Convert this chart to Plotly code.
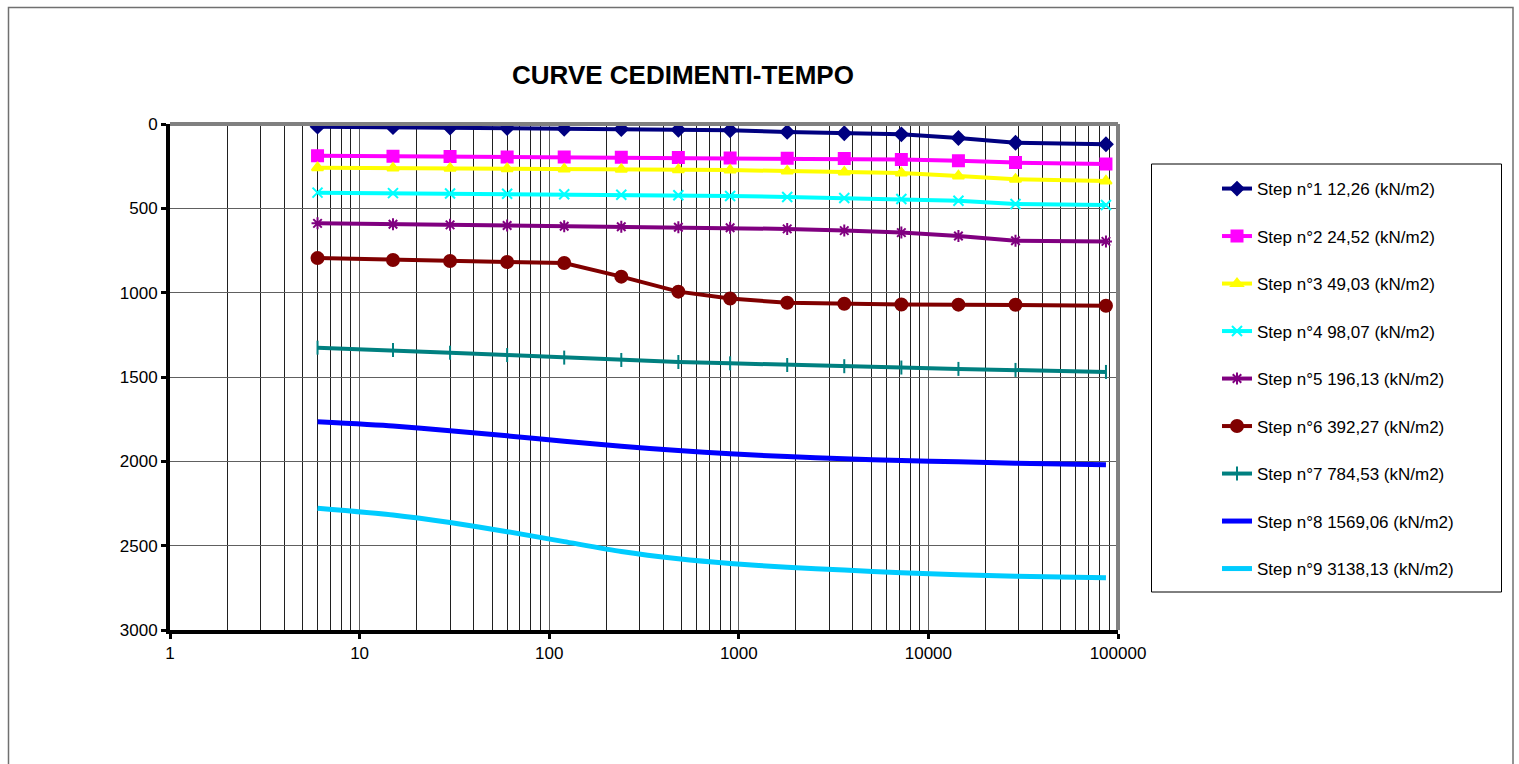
import plotly.graph_objects as go

# Elapsed time of each reading (s)
time_s = [6, 15, 30, 60, 120, 240, 480, 900, 1800, 3600, 7200, 14400, 28800, 86400]

# Settlement readings per load step
step1 = [16, 19, 21, 24, 28, 30, 34, 37, 47, 55, 61, 83, 111, 120]
step2 = [188, 191, 193, 195, 196, 197, 199, 201, 203, 205, 211, 218, 229, 237]
step3 = [259, 261, 263, 265, 267, 269, 271, 273, 279, 285, 290, 308, 328, 338]
step4 = [407, 410, 412, 414, 416, 419, 422, 427, 433, 439, 445, 455, 474, 480]
step5 = [589, 594, 598, 602, 606, 609, 612, 615, 622, 632, 644, 664, 692, 696]
step6 = [795, 806, 812, 818, 824, 905, 994, 1035, 1060, 1066, 1070, 1071, 1072, 1078]
step7 = [1326, 1340, 1356, 1370, 1385, 1399, 1411, 1419, 1429, 1436, 1444, 1452, 1458, 1470]
step8 = [1765, 1790, 1818, 1849, 1881, 1910, 1936, 1955, 1972, 1985, 1995, 2003, 2011, 2020]
step9 = [2278, 2318, 2363, 2417, 2476, 2535, 2578, 2606, 2628, 2645, 2660, 2672, 2681, 2690]

step_names = [
    "Step n°1 12,26 (kN/m2)",
    "Step n°2 24,52 (kN/m2)",
    "Step n°3 49,03 (kN/m2)",
    "Step n°4 98,07 (kN/m2)",
    "Step n°5 196,13 (kN/m2)",
    "Step n°6 392,27 (kN/m2)",
    "Step n°7 784,53 (kN/m2)",
    "Step n°8 1569,06 (kN/m2)",
    "Step n°9 3138,13 (kN/m2)",
]

x_tick_vals = [1, 10, 100, 1000, 10000, 100000]
x_tick_text = ["1", "10", "100", "1000", "10000", "100000"]
y_tick_vals = [0, 500, 1000, 1500, 2000, 2500, 3000]

series = [step1, step2, step3, step4, step5, step6, step7, step8, step9]
colors = ["#000080", "#FF00FF", "#FFFF00", "#00FFFF", "#800080",
          "#800000", "#008080", "#0000FF", "#00CCFF"]
symbols = ["diamond", "square", "triangle-up", "x-thin", "asterisk",
           "circle", "line-ns", None, None]
sizes = [10, 11, 10, 10, 10, 12, 10, 0, 0]

FONT = "Arial, Liberation Sans, sans-serif"

fig = go.Figure()
for i, (vals, name, col, sym, sz) in enumerate(zip(series, step_names, colors, symbols, sizes)):
    if sym is None:
        fig.add_trace(go.Scatter(
            x=time_s, y=vals, name=name, mode="lines",
            line=dict(color=col, width=5, shape="spline", smoothing=0.6),
            legendgroup=f"g{i}",
        ))
    else:
        fig.add_trace(go.Scatter(
            x=time_s, y=vals, name=name, mode="lines+markers",
            line=dict(color=col, width=4),
            marker=dict(symbol=sym, size=sz, color=col,
                        line=dict(color=col, width=2)),
            legendgroup=f"g{i}",
        ))

major_grid = "#606060"
minor_grid = "#202020"
minor_vals = [m * 10 ** d for d in range(5) for m in range(2, 10)]

fig.update_xaxes(
    type="log", range=[0, 5],
    tickvals=x_tick_vals, ticktext=x_tick_text,
    showgrid=True, gridcolor=major_grid, gridwidth=1,
    minor=dict(tickvals=minor_vals, showgrid=True, gridcolor=minor_grid, gridwidth=1, ticks=""),
    showline=True, linecolor="black", linewidth=4,
    ticks="outside", ticklen=5, tickwidth=3, tickcolor="black",
    tickfont=dict(family=FONT, size=17, color="black"),
    zeroline=False,
)
fig.update_yaxes(
    range=[3000, 0], tickvals=y_tick_vals,
    showgrid=True, gridcolor=major_grid, gridwidth=1,
    showline=True, linecolor="black", linewidth=4,
    ticks="outside", ticklen=5, tickwidth=3, tickcolor="black",
    tickfont=dict(family=FONT, size=17, color="black"),
    zeroline=False,
)

# plot area: x 170..1118, y 124..630 in a 1519x764 page
L, R, T, B = 170, 1118, 124, 630
W, H = 1519, 764
pw, ph = R - L, B - T

def px_x(px):
    return (px - L) / pw

def px_y(py):
    return (B - py) / ph

shapes = [
    # top and right plot border
    dict(type="line", xref="paper", yref="paper", x0=0, x1=1, y0=1, y1=1,
         line=dict(color="#808080", width=4), layer="above"),
    dict(type="line", xref="paper", yref="paper", x0=1, x1=1, y0=0, y1=1,
         line=dict(color="#808080", width=4), layer="above"),
    # outer chart frame
    dict(type="rect", xref="paper", yref="paper",
         x0=px_x(8.5), x1=px_x(1513), y0=px_y(7.5), y1=px_y(800),
         line=dict(color="#707070", width=1.5), fillcolor="rgba(0,0,0,0)"),
    # legend frame
    dict(type="rect", xref="paper", yref="paper",
         x0=px_x(1151.5), x1=px_x(1501.5), y0=px_y(164), y1=px_y(592),
         line=dict(color="black", width=1), fillcolor="rgba(0,0,0,0)"),
]

fig.update_layout(
    width=W, height=H,
    margin=dict(l=L, r=W - R, t=T, b=H - B),
    paper_bgcolor="white", plot_bgcolor="white",
    title=dict(text="<b>CURVE CEDIMENTI-TEMPO</b>",
               x=683 / W, xanchor="center", xref="container",
               y=1 - 75 / H, yanchor="middle", yref="container",
               font=dict(family=FONT, size=26, color="black")),
    showlegend=True,
    legend=dict(
        x=px_x(1217), y=px_y(171), xanchor="left", yanchor="top",
        xref="paper", yref="paper",
        bgcolor="rgba(0,0,0,0)", borderwidth=0,
        font=dict(family=FONT, size=17, color="black"),
        tracegroupgap=22.4, itemwidth=30,
    ),
    shapes=shapes,
)

fig.write_html("out.html")
